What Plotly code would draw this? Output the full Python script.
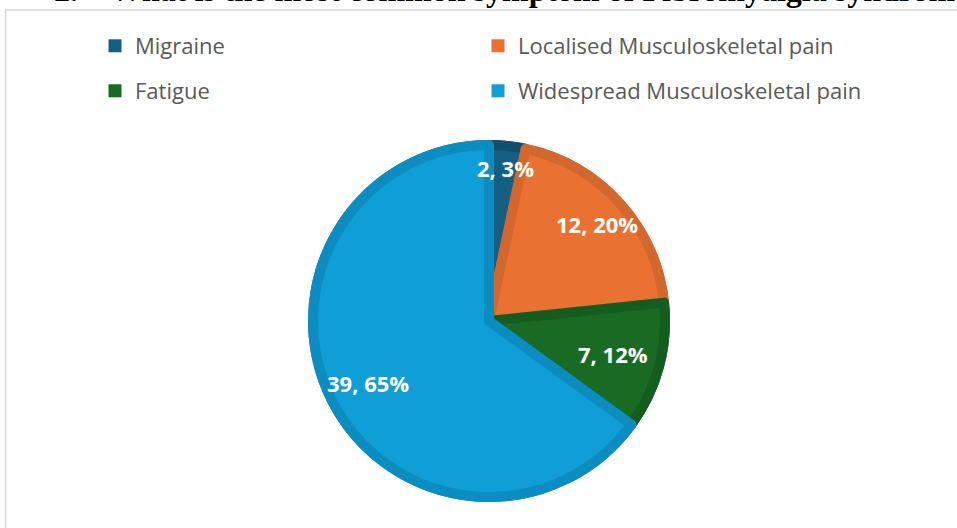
import math
import plotly.graph_objects as go

# Survey answers: most common symptom of fibromyalgia syndrome
categories = ["Migraine", "Localised Musculoskeletal pain", "Fatigue", "Widespread Musculoskeletal pain"]
counts = [2, 12, 7, 39]

fill_colors = ["#156082", "#E97132", "#196B24", "#0F9ED5"]
edge_colors = ["#124F6C", "#D4672E", "#155C1F", "#0C8DC2"]

title_text = "2.\u00a0\u00a0\u00a0\u00a0What is the most common symptom of Fibromyalgia syndrome"

W, H = 957, 528
CX, CY, R = 489, 321, 181          # pie centre and radius in pixels
BAND = 10                          # width of the darker inner rim
LABEL_RADIUS = [0.85, 0.80, 0.71, 0.75]


def px_domain(cx, cy, r):
    return dict(x=[(cx - r) / W, (cx + r) / W],
                y=[1 - (cy + r) / H, 1 - (cy - r) / H])


fig = go.Figure()

# darker base disc gives the rim of every slice
fig.add_trace(go.Pie(
    labels=categories, values=counts, sort=False, direction="clockwise", rotation=0,
    marker=dict(colors=edge_colors, line=dict(width=0)),
    textinfo="none", hoverinfo="skip", showlegend=False,
    domain=px_domain(CX, CY, R),
))

# lighter slices inset inside the rim
fig.add_trace(go.Pie(
    labels=categories, values=counts, sort=False, direction="clockwise", rotation=0,
    marker=dict(colors=fill_colors, line=dict(color=edge_colors, width=BAND)),
    textinfo="none", showlegend=False,
    hovertemplate="%{label}: %{value} (%{percent})<extra></extra>",
    domain=px_domain(CX, CY, R - BAND / 2),
))

# legend entries: two rows of two
legend_of = ["legend", "legend", "legend2", "legend2"]
for name, col, lg in zip(categories, fill_colors, legend_of):
    fig.add_trace(go.Scatter(
        x=[None], y=[None], mode="markers", name=name, legend=lg,
        marker=dict(symbol="square", size=13, color=col, line=dict(width=0)),
        hoverinfo="skip",
    ))

# value labels placed along each slice's middle angle
total = sum(counts)
start = 0.0
annotations = []
for v, rf in zip(counts, LABEL_RADIUS):
    span = 360.0 * v / total
    mid = math.radians(start + span / 2)
    start += span
    px = CX + rf * R * math.sin(mid)
    py = CY - rf * R * math.cos(mid)
    annotations.append(dict(
        x=px / W, y=1 - py / H, xref="paper", yref="paper",
        text=f"<b>{v}, {round(100 * v / total)}%</b>", showarrow=False,
        font=dict(family="Open Sans", size=22, color="white"),
        xanchor="center", yanchor="middle",
    ))

annotations.append(dict(
    x=52 / W, y=1, xref="paper", yref="paper", xanchor="left", yanchor="bottom",
    yshift=-10, text=f"<b>{title_text}</b>", showarrow=False,
    font=dict(family="Liberation Serif", size=32, color="black"),
))

legend_common = dict(
    orientation="h", entrywidth=338, entrywidthmode="pixels",
    font=dict(family="Open Sans", size=22, color="#595959"),
    bgcolor="rgba(0,0,0,0)", borderwidth=0, itemclick=False,
    xanchor="left", yanchor="middle", itemsizing="trace",
)

fig.update_layout(
    width=W, height=H,
    margin=dict(l=0, r=0, t=0, b=0),
    paper_bgcolor="white", plot_bgcolor="white",
    xaxis=dict(visible=False), yaxis=dict(visible=False),
    legend=dict(x=95 / W, y=1 - 46 / H, **legend_common),
    legend2=dict(x=95 / W, y=1 - 91 / H, **legend_common),
    annotations=annotations,
    shapes=[dict(type="rect", xref="paper", yref="paper",
                 x0=5.5 / W, x1=1.05, y0=-0.05, y1=1 - 10 / H,
                 line=dict(color="#D9D9D9", width=1.5), fillcolor="rgba(0,0,0,0)",
                 layer="below")],
)

fig.write_html("out.html")
